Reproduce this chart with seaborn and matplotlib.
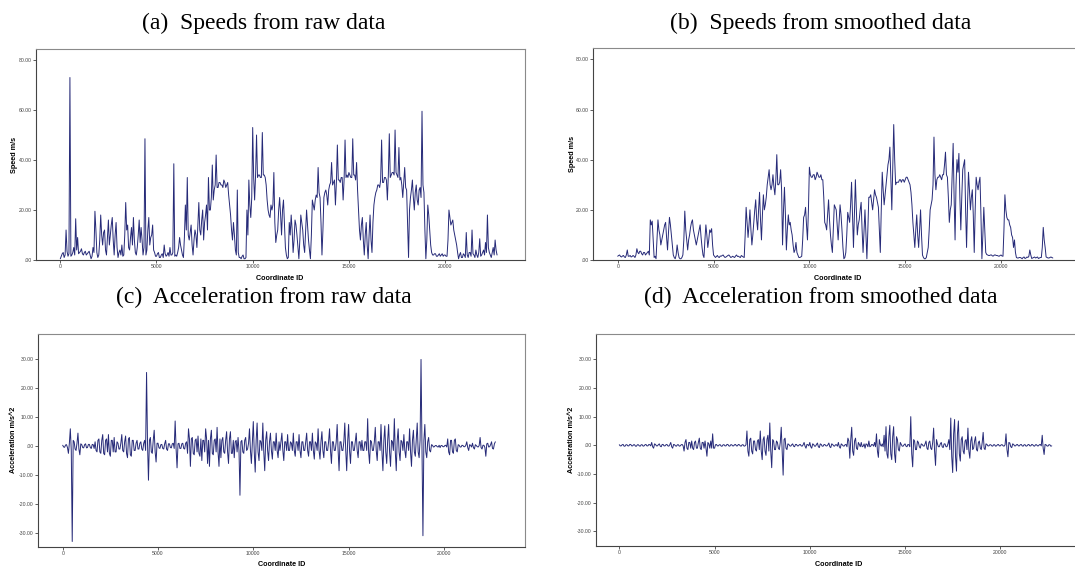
import numpy as np
import pandas as pd
import matplotlib
matplotlib.use("Agg")
import matplotlib.pyplot as plt
import seaborn as sns

# ---------------- data ----------------
# main samples at IDs 0, 100, 200, ...; *_mid samples at IDs 50, 150, 250, ...
STEP = 100

speed_raw = [
    0.5, 2.5, 1.0, 12.0, 1.5, 73.0, 2.0, 5.0, 16.5, 9.0,        # 0k
    3.0, 4.5, 2.0, 3.5, 2.5, 3.5, 0.5, 5.0, 19.5, 3.0,          # 1k
    2.0, 18.0, 6.0, 12.0, 2.0, 16.0, 10.0, 17.0, 2.0, 15.0,     # 2k
    1.0, 4.0, 6.0, 2.0, 23.0, 14.0, 4.0, 13.0, 17.0, 3.0,       # 3k
    5.0, 16.0, 13.0, 2.0, 48.5, 4.0, 17.0, 9.0, 14.0, 3.0,      # 4k
    1.5, 3.0, 1.0, 2.5, 6.0, 1.5, 3.0, 5.0, 2.0, 38.5,          # 5k
    2.0, 3.0, 9.0, 4.0, 1.0, 22.0, 33.0, 8.0, 14.0, 2.0,        # 6k
    12.0, 5.0, 23.0, 10.0, 20.0, 15.0, 22.0, 33.0, 20.0, 38.0,  # 7k
    28.0, 42.0, 29.0, 31.0, 30.0, 32.0, 29.0, 31.0, 22.0, 12.0, # 8k
    15.0, 4.0, 28.0, 1.0, 0.5, 2.0, 0.5, 20.0, 32.0, 17.0,      # 9k
    53.0, 24.0, 50.0, 34.0, 33.0, 51.0, 34.0, 30.0, 20.0, 17.0, # 10k
    20.0, 35.0, 7.0, 12.0, 25.0, 10.0, 24.0, 5.0, 0.5, 15.0,    # 11k
    18.0, 3.0, 16.0, 10.0, 0.5, 18.0, 12.0, 3.0, 20.0, 8.0,     # 12k
    0.5, 24.0, 20.0, 26.0, 37.0, 25.0, 2.0, 25.0, 28.0, 22.0,   # 13k
    30.0, 39.0, 31.0, 22.0, 46.0, 32.0, 33.0, 24.0, 48.0, 34.0, # 14k
    35.0, 33.0, 48.5, 34.0, 39.0, 20.0, 8.0, 17.0, 2.0, 15.0,   # 15k
    0.5, 18.0, 3.0, 22.0, 27.0, 30.0, 29.0, 48.0, 31.0, 33.0,   # 16k
    24.0, 50.5, 34.0, 35.0, 52.0, 34.0, 45.0, 33.0, 25.0, 37.0, # 17k
    28.0, 1.0, 25.0, 32.0, 20.0, 30.0, 22.0, 29.0, 59.5, 27.0,  # 18k
    0.5, 22.0, 12.0, 3.0, 2.0, 2.5, 1.5, 2.5, 2.0, 1.5,         # 19k
    2.0, 1.5, 20.0, 14.0, 16.0, 10.0, 6.0, 0.5, 3.0, 1.0,       # 20k
    2.0, 11.0, 1.0, 3.0, 12.0, 2.0, 4.0, 1.0, 8.5, 2.0,         # 21k
    4.0, 7.0, 18.0, 3.0, 1.0, 5.0, 8.0, 2.0,                    # 22k
]
speed_raw_mid = [
    1.5, 3.0, 2.0, 3.5, 2.5, 1.5, 3.0, 2.0, 4.0, 2.5,
    3.5, 2.5, 3.0, 2.0, 3.0, 2.0, 1.5, 3.0, 12.0, 1.0,
    8.0, 10.0, 11.0, 4.0, 9.0, 6.0, 14.0, 8.0, 10.0, 5.0,
    3.0, 2.0, 1.5, 10.0, 12.0, 5.0, 9.0, 6.0, 8.0, 2.0,
    10.0, 7.0, 8.0, 5.0, 2.0, 12.0, 6.0, 10.0, 4.0, 1.5,
    2.5, 1.0, 2.0, 1.0, 2.5, 2.0, 1.5, 2.0, 3.0, 1.5,
    1.5, 5.0, 6.0, 2.0, 9.0, 12.0, 10.0, 11.0, 6.0, 8.0,
    10.0, 14.0, 12.0, 16.0, 8.0, 18.0, 12.0, 20.0, 25.0, 24.0,
    30.0, 29.0, 31.0, 30.0, 29.0, 31.0, 30.0, 26.0, 18.0, 8.0,
    10.0, 2.0, 3.0, 1.0, 1.5, 0.5, 1.0, 10.0, 22.0, 25.0,
    33.0, 34.0, 33.0, 34.0, 33.0, 34.0, 33.0, 24.0, 18.0, 22.0,
    22.0, 15.0, 10.0, 20.0, 18.0, 20.0, 15.0, 2.0, 1.0, 10.0,
    12.0, 8.0, 14.0, 5.0, 8.0, 15.0, 6.0, 12.0, 14.0, 4.0,
    10.0, 22.0, 24.0, 25.0, 27.0, 15.0, 12.0, 27.0, 26.0, 28.0,
    31.0, 30.0, 32.0, 31.0, 32.0, 31.0, 33.0, 32.0, 33.0, 33.0,
    34.0, 33.0, 34.0, 32.0, 28.0, 12.0, 14.0, 8.0, 10.0, 6.0,
    10.0, 8.0, 15.0, 25.0, 28.0, 30.0, 32.0, 31.0, 33.0, 32.0,
    34.0, 33.0, 35.0, 34.0, 35.0, 33.0, 32.0, 30.0, 31.0, 29.0,
    15.0, 20.0, 28.0, 25.0, 27.0, 24.0, 28.0, 25.0, 30.0, 12.0,
    8.0, 18.0, 6.0, 2.0, 2.5, 1.5, 2.0, 1.5, 2.5, 2.0,
    1.5, 8.0, 17.0, 15.0, 12.0, 8.0, 3.0, 2.0, 1.0, 2.5,
    1.0, 2.0, 3.0, 1.5, 2.5, 1.0, 2.0, 3.0, 1.5, 3.0,
    2.0, 3.0, 5.0, 2.0, 3.0, 2.0, 4.0,
]

speed_smooth = [
    1.5, 2.0, 1.2, 1.8, 1.0, 4.0, 1.5, 1.2, 1.8, 1.0,           # 0k
    4.5, 2.5, 3.5, 2.0, 3.0, 2.5, 3.5, 16.0, 15.5, 1.0,         # 1k
    0.5, 16.0, 10.0, 8.0, 12.0, 15.0, 4.0, 17.0, 10.0, 2.0,     # 2k
    0.5, 6.0, 1.0, 0.5, 2.0, 19.5, 8.0, 8.0, 13.0, 16.0,        # 3k
    10.0, 6.0, 10.0, 14.0, 5.0, 1.0, 14.0, 5.0, 12.0, 12.5,     # 4k
    2.0, 1.0, 1.8, 1.0, 1.5, 2.0, 1.0, 1.5, 2.0, 1.0,           # 5k
    1.5, 1.0, 2.0, 1.5, 1.0, 1.5, 1.0, 21.0, 9.0, 20.0,         # 6k
    6.0, 15.0, 24.0, 12.0, 27.0, 8.0, 26.0, 22.0, 30.0, 36.0,   # 7k
    28.0, 34.0, 26.0, 42.0, 30.0, 36.0, 6.0, 29.0, 4.0, 18.0,   # 8k
    15.0, 10.0, 3.0, 7.0, 2.0, 1.0, 1.5, 17.0, 21.0, 8.0,       # 9k
    37.0, 33.0, 34.0, 32.0, 35.0, 33.0, 34.0, 32.0, 15.0, 12.0, # 10k
    24.0, 10.0, 3.0, 22.0, 20.0, 8.0, 22.0, 12.0, 0.5, 3.0,     # 11k
    19.0, 15.0, 31.0, 5.0, 32.0, 10.0, 16.0, 23.0, 3.0, 20.0,   # 12k
    0.5, 25.0, 26.0, 20.0, 28.0, 25.0, 21.0, 3.0, 35.0, 22.0,   # 13k
    30.0, 38.0, 45.0, 20.0, 54.0, 30.0, 31.0, 32.0, 31.0, 32.0, # 14k
    32.0, 33.0, 31.0, 27.0, 15.0, 5.0, 18.0, 5.0, 20.0, 2.0,    # 15k
    0.5, 1.0, 5.0, 20.0, 24.0, 49.0, 28.0, 33.0, 34.0, 32.0,    # 16k
    34.0, 43.0, 33.0, 15.0, 22.0, 46.5, 8.0, 40.0, 42.5, 12.0,  # 17k
    36.0, 40.0, 5.0, 35.0, 20.0, 28.0, 3.0, 33.0, 28.0, 33.0,   # 18k
    0.5, 21.0, 3.0, 2.0, 1.8, 2.0, 1.6, 2.0, 1.8, 1.5,          # 19k
    2.0, 1.5, 26.0, 17.0, 16.0, 13.0, 9.0, 8.0, 1.0, 0.8,       # 20k
    1.0, 0.5, 1.2, 0.8, 1.0, 4.0, 0.6, 1.0, 0.8, 1.2,           # 21k
    0.8, 1.0, 13.0, 5.0, 1.0, 0.8, 1.2, 0.8,                    # 22k
]
speed_smooth_mid = [
    1.8, 1.4, 1.6, 1.2, 2.0, 1.5, 1.8, 1.4, 1.5, 2.0,
    3.0, 3.5, 2.5, 3.0, 2.0, 3.0, 2.0, 14.0, 8.0, 1.5,
    8.0, 12.0, 6.0, 10.0, 14.0, 9.0, 11.0, 14.0, 6.0, 1.0,
    2.0, 3.0, 0.5, 1.0, 8.0, 12.0, 4.0, 10.0, 15.0, 12.0,
    8.0, 8.0, 12.0, 9.0, 2.0, 8.0, 10.0, 8.0, 11.0, 6.0,
    1.5, 1.4, 1.2, 1.6, 1.8, 1.4, 1.2, 1.8, 1.5, 1.2,
    1.2, 1.6, 1.4, 1.2, 1.8, 1.2, 10.0, 15.0, 14.0, 12.0,
    10.0, 20.0, 16.0, 20.0, 16.0, 18.0, 20.0, 25.0, 33.0, 30.0,
    30.0, 29.0, 32.0, 30.0, 31.0, 28.0, 20.0, 18.0, 12.0, 14.0,
    12.0, 6.0, 4.0, 3.0, 1.0, 1.2, 8.0, 18.0, 14.0, 20.0,
    34.0, 33.0, 34.0, 33.0, 34.0, 33.0, 32.0, 25.0, 14.0, 18.0,
    16.0, 6.0, 12.0, 21.0, 14.0, 15.0, 18.0, 5.0, 1.0, 10.0,
    17.0, 22.0, 18.0, 18.0, 20.0, 14.0, 20.0, 12.0, 12.0, 10.0,
    12.0, 25.0, 23.0, 24.0, 26.0, 23.0, 12.0, 20.0, 28.0, 26.0,
    34.0, 40.0, 32.0, 38.0, 40.0, 31.0, 31.0, 32.0, 32.0, 31.0,
    33.0, 32.0, 30.0, 22.0, 10.0, 12.0, 10.0, 12.0, 10.0, 1.0,
    0.5, 3.0, 12.0, 22.0, 30.0, 34.0, 32.0, 33.0, 33.0, 34.0,
    38.0, 34.0, 25.0, 20.0, 35.0, 25.0, 30.0, 35.0, 25.0, 25.0,
    38.0, 20.0, 22.0, 28.0, 25.0, 18.0, 20.0, 30.0, 31.0, 18.0,
    10.0, 12.0, 2.2, 1.8, 2.0, 1.6, 2.0, 1.8, 1.6, 1.8,
    1.6, 12.0, 20.0, 16.0, 14.0, 10.0, 5.0, 3.0, 0.8, 1.0,
    0.8, 1.0, 0.6, 1.2, 1.5, 2.0, 0.8, 1.2, 1.0, 0.6,
    1.0, 5.0, 8.0, 1.2, 0.8, 1.0, 1.0,
]

accel_raw = [
    0.3, -0.4, 0.5, -2.5, 6.0, -33.0, 1.5, -1.5, 4.5, -3.0,     # 0k
    0.5, -0.6, 0.8, -0.5, 0.6, -0.8, 0.5, 1.5, -2.0, 2.5,       # 1k
    -2.5, 4.0, -3.0, 2.5, 4.0, -3.5, 2.0, 3.0, -2.0, 1.0,       # 2k
    -1.0, 4.0, -2.0, 3.5, -4.0, 3.0, -3.5, 2.0, -1.5, 2.0,      # 3k
    -1.0, 1.5, -1.5, 2.0, 25.5, -11.8, 3.0, -2.5, 5.5, -5.5,    # 4k
    1.0, -0.8, 0.6, -1.0, 2.0, -1.5, 0.8, -0.6, 1.0, 8.7,       # 5k
    -7.5, 1.0, -0.8, 1.0, -1.0, 1.5, 6.0, -7.0, 3.0, -3.0,      # 6k
    2.5, 3.5, -3.5, -5.0, 2.0, 6.0, -6.0, -7.0, 5.5, -3.0,      # 7k
    2.5, 6.5, -7.0, -4.0, 3.0, -2.5, 5.0, -6.0, 5.0, -2.5,      # 8k
    -4.0, 2.0, 3.0, -17.0, 2.0, -2.5, 3.0, -1.0, 6.0, -6.0,     # 9k
    8.5, -9.0, 8.0, -5.0, 1.5, 8.0, -8.5, 5.0, -5.0, 4.5,       # 10k
    -4.5, 1.5, 4.5, -4.0, -1.5, 4.5, -5.0, 1.5, 4.0, -1.5,      # 11k
    1.0, 4.5, -3.5, 1.5, 4.0, -4.0, 1.5, -1.5, 4.5, -3.5,       # 12k
    1.5, 4.5, -4.5, 1.0, 6.0, -4.5, 5.0, -4.0, 1.5, -1.5,       # 13k
    6.0, -6.0, 1.5, -1.5, 7.5, -8.5, 1.5, -1.5, 8.0, -8.5,      # 14k
    7.5, -6.0, 1.5, -1.5, 4.5, -4.0, 1.5, 2.0, -1.5, 1.5,       # 15k
    9.5, -6.0, 1.5, -1.5, 6.5, -5.0, 1.5, 7.5, -8.5, 7.0,       # 16k
    -6.0, 7.5, -7.0, 1.5, 9.5, -8.5, 6.0, -5.0, 1.5, 4.0,       # 17k
    -4.0, 1.5, 6.0, -7.0, 5.5, -3.5, 8.0, -4.0, 30.0, -31.0,    # 18k
    7.5, -4.0, 3.0, -2.0, 0.3, -0.2, 0.2, -0.3, -0.5, 0.2,      # 19k
    -0.2, 0.3, 2.5, -3.0, 2.0, -2.5, 2.5, -2.0, 0.3, -0.3,      # 20k
    0.2, -0.2, 1.5, -1.5, 0.3, 1.0, -1.0, 0.2, -0.3, 3.0,       # 21k
    -1.0, 0.3, -3.5, 1.0, -0.2, 1.5, -1.0, 1.5,                 # 22k
]
accel_raw_mid = [
    -0.3, 0.4, -0.5, 1.0, -1.5, 2.0, -1.0, 1.0, -1.0, 0.8,
    -0.5, 0.5, -0.6, 0.6, -0.5, 0.6, -0.8, -1.5, 2.0, -2.0,
    2.0, -2.5, 2.0, -2.0, -2.5, 2.0, -2.0, -2.0, 1.5, -1.0,
    1.0, -1.5, 1.5, -2.5, 2.5, -3.0, 2.0, -1.5, 1.0, -1.0,
    1.0, -1.0, 1.0, -1.5, 1.0, 2.0, -2.0, 2.0, -2.0, 1.0,
    -0.6, 0.5, -0.8, 0.8, -1.0, 0.8, -0.5, 0.8, -0.8, -1.0,
    0.8, -0.8, 0.8, -0.8, 1.0, -2.5, 2.5, 2.5, -2.5, 2.0,
    -2.0, -2.5, 2.5, 2.0, -2.0, 2.5, 2.0, 2.5, -2.5, 2.0,
    -2.0, -2.0, 2.5, 2.0, -2.0, 2.0, -2.0, 2.5, -2.5, 2.0,
    1.5, -2.0, -1.5, 1.5, -2.0, 2.0, -1.5, 1.0, -1.5, 1.5,
    -2.0, 2.0, -2.0, 2.0, -1.5, -2.0, 2.0, -1.5, 1.5, -1.5,
    1.5, -1.5, -1.5, 1.5, 1.5, -1.5, 1.5, -1.5, -1.5, 1.5,
    -1.5, -1.5, 1.5, -1.5, -1.5, 1.5, -1.5, 1.5, -1.5, 1.5,
    -1.5, -1.5, 1.5, -1.5, -1.5, 1.5, -1.5, 1.5, -1.5, 1.5,
    -1.5, 1.5, -1.5, 1.5, -1.5, 1.5, -1.5, 1.5, -1.5, 1.5,
    -1.5, 1.5, -1.5, 1.5, -1.5, 1.5, -1.5, -1.5, 1.5, -1.5,
    -2.0, 2.0, -1.5, 1.5, -1.5, 1.5, -1.5, -2.0, 2.0, -2.0,
    2.0, -2.0, 2.0, -1.5, -2.0, 2.0, -2.0, 2.0, -1.5, -1.5,
    1.5, -1.5, -2.0, 2.0, -2.0, 2.0, -2.0, 2.0, -2.0, 2.0,
    -2.0, 1.5, -1.5, 0.5, -0.3, 0.2, -0.2, 0.3, 0.2, -0.2,
    0.2, -0.3, -2.0, 2.0, -2.0, 2.0, -1.5, 0.5, -0.3, 0.3,
    -0.2, 0.3, -0.5, 0.5, -0.3, -0.5, 0.5, -0.2, 0.2, -0.5,
    0.3, -0.5, 0.8, -0.3, 0.5, -0.8, 0.8,
]

accel_smooth = [
    0.2, -0.2, 0.3, -0.3, 0.2, -0.2, 0.3, -0.2, 0.2, -0.3,      # 0k
    0.2, -0.3, 0.2, -0.2, 0.3, -0.2, 0.2, 1.0, -1.0, 0.3,       # 1k
    -0.2, 0.5, -0.5, 0.3, -0.2, 0.3, -0.3, 1.0, -1.0, 0.2,      # 2k
    -0.3, 0.2, -0.2, 0.3, -2.0, 2.0, -1.5, 1.0, 1.5, -1.5,      # 3k
    1.5, -1.0, 2.5, -1.5, 1.0, 1.5, -3.8, 0.5, 1.5, 4.0,        # 4k
    -1.0, 0.3, -0.2, 0.2, -0.3, 0.2, -0.2, 0.3, -0.3, 0.2,      # 5k
    -0.2, 0.3, -0.2, 0.2, -0.3, 0.2, -0.2, 5.0, -3.8, 2.5,      # 6k
    -3.0, 1.5, -2.0, 2.0, 5.0, -5.0, 3.0, -3.5, 3.5, 7.8,       # 7k
    -7.8, 1.5, -1.5, 1.0, -1.5, 6.3, -10.4, 2.5, -1.5, 0.3,     # 8k
    -0.3, 0.5, -0.5, 0.3, -0.2, 0.3, -0.3, 1.0, -1.0, 0.2,      # 9k
    1.0, -1.0, 0.3, -0.3, 0.8, -0.8, 0.3, -0.3, 0.2, -0.2,      # 10k
    0.8, -0.8, 0.3, -0.3, 0.2, 1.0, -1.0, 0.2, -0.3, 0.3,       # 11k
    2.5, -4.5, 6.3, -3.5, 2.5, -1.5, 0.3, 1.0, -0.3, -1.0,      # 12k
    0.3, 1.5, -0.3, 0.2, 1.0, 4.0, -4.2, 0.3, 0.5, 3.5,         # 13k
    6.5, -4.5, 7.0, -5.0, 6.5, -6.0, 2.0, -2.0, 0.3, -0.3,      # 14k
    0.5, -0.5, 0.2, 10.0, -7.5, 1.5, -1.5, 1.0, -1.0, 0.3,      # 15k
    -0.3, 1.5, -1.5, 1.5, -1.5, 6.0, -7.0, 0.5, -0.5, 1.0,      # 16k
    -0.8, 0.5, -0.5, 2.0, 9.5, -9.5, 9.0, -9.0, 8.5, -5.5,      # 17k
    3.0, -3.0, 2.0, 6.0, -4.5, 3.0, -1.0, 3.0, -2.0, 1.5,       # 18k
    -1.5, 4.5, -1.5, 0.3, -0.2, 0.2, -0.3, 0.2, -0.2, 0.3,      # 19k
    -0.2, 0.2, -0.3, 4.0, -4.0, 0.8, -0.8, 0.3, -0.2, 0.3,      # 20k
    -0.2, 0.3, -0.3, 0.2, -0.2, 0.3, -0.2, 0.2, -0.3, 0.2,      # 21k
    -0.2, 0.3, 3.5, -3.2, 0.2, -0.3, 0.2, -0.2,                 # 22k
]
accel_smooth_mid = [
    -0.2, 0.2, -0.3, 0.2, -0.2, 0.3, -0.2, 0.2, -0.3, 0.2,
    -0.2, 0.2, -0.3, 0.2, -0.2, 0.3, -0.2, -0.5, 0.5, -0.2,
    0.2, -0.3, 0.3, -0.2, 0.2, -0.2, 0.2, -0.5, 0.3, -0.2,
    0.2, -0.3, 0.2, -0.2, 1.0, -1.0, 1.0, -1.0, -1.0, 1.0,
    -1.0, 1.0, -1.0, 1.0, -1.0, -1.0, 1.0, -1.0, -1.0, -1.0,
    0.2, -0.2, 0.2, -0.3, 0.2, -0.2, 0.3, -0.2, 0.2, -0.2,
    0.2, -0.2, 0.3, -0.2, 0.2, -0.3, 0.2, -2.0, 2.0, -2.0,
    1.5, -1.5, 1.5, -1.5, -2.0, 2.0, -2.0, 2.0, -2.0, -2.0,
    2.0, -1.5, 1.5, -1.0, 1.0, -2.0, 2.0, -1.0, 0.5, -0.2,
    0.2, -0.3, 0.3, -0.2, 0.2, -0.2, 0.2, -0.3, 0.3, -0.2,
    -0.5, 0.5, -0.3, 0.3, -0.5, 0.5, -0.3, 0.3, -0.2, 0.2,
    -0.5, 0.5, -0.2, 0.2, -0.3, -0.5, 0.5, -0.2, 0.2, -0.5,
    1.5, 2.0, -2.0, 1.5, -1.0, 1.0, -0.5, -0.5, 0.5, 0.5,
    -0.5, -0.5, 0.3, -0.3, -0.5, -2.0, 2.0, -0.3, -0.5, -2.0,
    -3.0, 3.0, -3.0, 3.0, -3.0, 3.0, -1.5, 1.0, -0.3, 0.2,
    -0.3, 0.3, -0.5, -3.0, 2.0, -1.5, 1.5, -0.5, 0.5, -0.2,
    0.5, -1.0, 1.0, -1.0, 1.0, -2.0, 2.0, -0.5, 0.5, -0.5,
    0.5, -0.5, 0.5, -1.5, -4.0, 4.0, -4.0, 4.0, -3.0, 2.0,
    -2.0, 1.5, -1.5, -2.0, 1.5, -1.5, 1.5, -1.5, 1.0, -1.0,
    1.0, -1.0, 0.5, -0.2, 0.2, -0.2, 0.2, -0.3, 0.2, -0.2,
    0.2, -0.2, 0.2, -1.5, 1.0, -0.5, 0.5, -0.2, 0.2, -0.2,
    0.2, -0.2, 0.2, -0.3, 0.2, -0.2, 0.3, -0.2, 0.2, -0.2,
    0.2, -0.2, -1.0, 0.3, -0.2, 0.2, -0.3,
]

titles = ["(a)  Speeds from raw data", "(b)  Speeds from smoothed data",
          "(c)  Acceleration from raw data", "(d)  Acceleration from smoothed data"]
x_label = "Coordinate ID"
speed_label = "Speed m/s"
accel_label = "Acceleration m/s^2"
x_ticks = [0, 5000, 10000, 15000, 20000]
speed_ticks = [0, 20, 40, 60, 80]
speed_ticklabels = [".00", "20.00", "40.00", "60.00", "80.00"]
accel_ticks = [-30, -20, -10, 0, 10, 20, 30]
accel_ticklabels = ["-30.00", "-20.00", "-10.00", ".00", "10.00", "20.00", "30.00"]


def series_frame(main, mid):
    ids = np.concatenate([np.arange(len(main)) * STEP, np.arange(len(mid)) * STEP + STEP // 2])
    vals = np.concatenate([np.asarray(main, float), np.asarray(mid, float)])
    order = np.argsort(ids, kind="stable")
    return pd.DataFrame({"Coordinate ID": ids[order], "value": vals[order]})


# ---------------- style ----------------
sns.set_theme(style="ticks")
plt.rcParams['font.family'] = ['Liberation Sans', 'DejaVu Sans']

NAVY = "#262a78"
W, H = 1075, 571
fig = plt.figure(figsize=(W / 100, H / 100), dpi=100)


def px_axes(l, t, r, b):
    return fig.add_axes([l / W, 1 - b / H, (r - l) / W, (b - t) / H])


panels = [
    dict(box=(36, 49, 525, 260), xlim=(-1263, 24153), ylim=(0, 84.4), main=speed_raw, mid=speed_raw_mid,
         ylab=speed_label, yt=speed_ticks, ytl=speed_ticklabels, ylab_x=14, xlab_x=280, xlab_y=279),
    dict(box=(593.3, 48.3, 1081, 260), xlim=(-1273, 24170), ylim=(0, 84.4), main=speed_smooth, mid=speed_smooth_mid,
         ylab=speed_label, yt=speed_ticks, ytl=speed_ticklabels, ylab_x=572, xlab_x=838, xlab_y=279),
    dict(box=(38.3, 334, 525, 546.7), xlim=(-1280, 24255), ylim=(-34.8, 38.8), main=accel_raw, mid=accel_raw_mid,
         ylab=accel_label, yt=accel_ticks, ytl=accel_ticklabels, ylab_x=14, xlab_x=282, xlab_y=565),
    dict(box=(595.7, 334.3, 1081, 546), xlim=(-1239, 24236), ylim=(-35.1, 38.7), main=accel_smooth, mid=accel_smooth_mid,
         ylab=accel_label, yt=accel_ticks, ytl=accel_ticklabels, ylab_x=572, xlab_x=839, xlab_y=565),
]

for p in panels:
    l, t, r, b = p["box"]
    ax = px_axes(l, t, r, b)
    df = series_frame(p["main"], p["mid"])
    sns.lineplot(data=df, x="Coordinate ID", y="value", ax=ax, color=NAVY, lw=0.7)
    ax.set_xlim(*p["xlim"])
    ax.set_ylim(*p["ylim"])
    ax.set_xticks(x_ticks)
    ax.set_xticklabels([str(v) for v in x_ticks])
    ax.set_yticks(p["yt"])
    ax.set_yticklabels(p["ytl"])
    ax.tick_params(axis="both", length=2.2, width=0.6, color="#444444", labelsize=3.7,
                   labelcolor="#444444", pad=1.0, direction="out")
    for side in ["top", "right"]:
        ax.spines[side].set_color("#8a8a8a")
        ax.spines[side].set_linewidth(0.8)
    for side in ["left", "bottom"]:
        ax.spines[side].set_color("#444444")
        ax.spines[side].set_linewidth(0.8)
    ax.set_xlabel(x_label, fontsize=5.2, fontweight="bold", color="black")
    ax.set_ylabel(p["ylab"], fontsize=5.2, fontweight="bold", color="black")
    ax.xaxis.label.set_va("center")
    ax.yaxis.label.set_va("center")
    ax.xaxis.set_label_coords((p["xlab_x"] - l) / (r - l), (b - p["xlab_y"]) / (b - t))
    ax.yaxis.set_label_coords((p["ylab_x"] - l) / (r - l), 0.5)

title_pos = [(264, 28.5), (821, 28.5), (264, 303), (821, 303)]
for txt, (x, y) in zip(titles, title_pos):
    fig.text(x / W, 1 - y / H, txt, ha="center", va="baseline",
             family=["Liberation Serif", "DejaVu Serif"], fontsize=17, color="black")

fig.savefig("out.png", dpi=100)
